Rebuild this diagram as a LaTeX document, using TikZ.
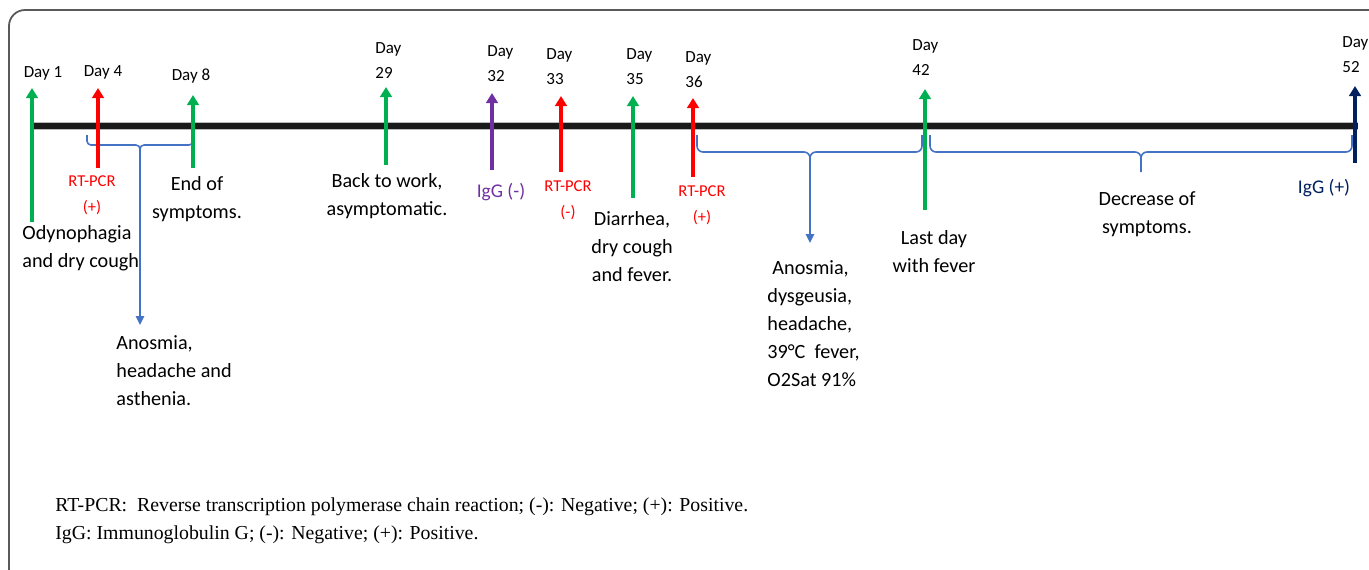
\documentclass[tikz,border=0pt]{standalone}
\usepackage{fontspec}
\setmainfont{Carlito}
\newfontfamily\notefont{Liberation Serif}
\usepackage{xcolor}
\usepackage{tikz}
\usetikzlibrary{arrows.meta}
\definecolor{ink}{HTML}{1A1A1A}
\definecolor{edge}{HTML}{595959}
\definecolor{grn}{HTML}{00B050}
\definecolor{rd}{HTML}{FF0000}
\definecolor{prp}{HTML}{7030A0}
\definecolor{nvy}{HTML}{002060}
\definecolor{blu}{HTML}{4472C4}
\tikzset{
  axisl/.style={line width=0.4pt, draw=gray!55, double=ink, double distance=3.2pt},
  evt/.style={line width=2.3pt, -{Triangle[width=5.8pt,length=5pt]}},
  brc/.style={draw=blu, line width=0.8pt, rounded corners=#1, line join=round},
  lnk/.style={draw=blu, line width=0.75pt, -{Triangle[width=4.2pt,length=4.5pt]}},
  lab/.style={text=black, font=\fontsize{10.1}{14}\selectfont, align=center, inner sep=0pt},
  labr/.style={text=rd, font=\fontsize{8.3}{13}\selectfont, align=center, inner sep=0pt},
  labi/.style={font=\fontsize{9.7}{12}\selectfont, inner sep=0pt},
  day/.style={text=black, font=\fontsize{8.5}{12.5}\selectfont, align=left, inner sep=0pt},
  note/.style={text=black, font=\notefont\fontsize{9.9}{14}\selectfont, align=left, inner sep=0pt},
}
\begin{document}
\begin{tikzpicture}[x=0.5pt,y=-0.5pt]
  \useasboundingbox (0,0) rectangle (1369,569);
  \begin{scope}
    \clip (0,0) rectangle (1369,569);
    \draw[edge, line width=0.9pt, rounded corners=8pt] (9,10) rectangle (1400,585);
  \end{scope}
  \coordinate (L) at (30,126);
  \coordinate (R) at (1358,126);
  \draw[axisl] (L) -- (R);
  \coordinate (b1a) at (87,135);
  \coordinate (b1b) at (193,135);
  \coordinate (k1) at (140,145);
  \coordinate (c1) at (140,152);
  \coordinate (b2a) at (697,135);
  \coordinate (b2b) at (922,135);
  \coordinate (k2) at (810,152);
  \coordinate (c2) at (810,168);
  \coordinate (b3a) at (930,135);
  \coordinate (b3b) at (1352,135);
  \coordinate (k3) at (1141,152);
  \coordinate (c3) at (1141,172);
  \draw[brc=2pt] (b1a) |- (k1) -- (c1) (b1b) |- (k1) -- (c1);
  \draw[brc=3pt] (b2a) |- (k2) -- (c2) (b2b) |- (k2) -- (c2);
  \draw[brc=3pt] (b3a) |- (k3) -- (c3) (b3b) |- (k3) -- (c3);
  \coordinate (e1) at (140,325);
  \coordinate (e2) at (810,243);
  \draw[lnk] (c1) -- (e1);
  \draw[lnk] (c2) -- (e2);
  \foreach \n/\x/\yb/\yt/\c in {1/32/222/88/grn, 4/98/168/88/rd, 8/193/168/95/grn,
      29/386/165/87/grn, 32/492/170/93/prp, 33/561/172/96/rd, 35/633/198/96/grn,
      36/693/177/98/rd, 42/925/210/89/grn, 52/1355/163/86/nvy}{
    \coordinate (s\n) at (\x,\yb);
    \coordinate (t\n) at (\x,\yt);
    \draw[evt, draw=\c] (s\n) -- (t\n);
  }
  \node[day] (d1) at (43,73) {Day 1};
  \node[day] (d4) at (103,72) {Day 4};
  \node[day] (d8) at (191,76) {Day 8};
  \foreach \n/\x/\y in {29/375/61, 32/487/64, 33/546/67, 35/626/67, 36/685/70, 42/912/58, 52/1342/55}
    \node[day, anchor=west] (d\n) at (\x,\y) {Day\\\n};
  \node[lab, align=left, anchor=west] (odyn) at (22,248) {Odynophagia\\and dry cough};
  \node[labr] (pcr4) at (92,195) {RT-PCR\\(+)};
  \node[lab] (end8) at (197,199) {End of\\symptoms.};
  \node[lab] (work) at (387,196) {Back to work,\\asymptomatic.};
  \node[labi, text=prp] (igg32) at (501,192) {IgG (-)};
  \node[labr] (pcr33) at (568,200) {RT-PCR\\(-)};
  \node[lab] (diar) at (632,247) {Diarrhea,\\dry cough\\and fever.};
  \node[labr] (pcr36) at (702,205) {RT-PCR\\(+)};
  \node[lab] (last) at (934,252) {Last day\\with fever};
  \node[labi, text=nvy] (igg52) at (1324,188) {IgG (+)};
  \node[lab] (decr) at (1147,214) {Decrease of\\symptoms.};
  \node[lab, align=left, anchor=west] (sym36) at (767,324)
    {\hspace*{0.25em}Anosmia,\\dysgeusia,\\headache,\\39°C\ \ fever,\\O2Sat 91\%};
  \node[lab, align=left, anchor=west] (sym4) at (116,371) {Anosmia,\\headache and\\asthenia.};
  \node[note, anchor=west] (key) at (55,521)
    {RT-PCR:\ \ Reverse transcription polymerase chain reaction; (-): Negative; (+): Positive.\\
     IgG: Immunoglobulin G; (-): Negative; (+): Positive.};
\end{tikzpicture}
\end{document}
